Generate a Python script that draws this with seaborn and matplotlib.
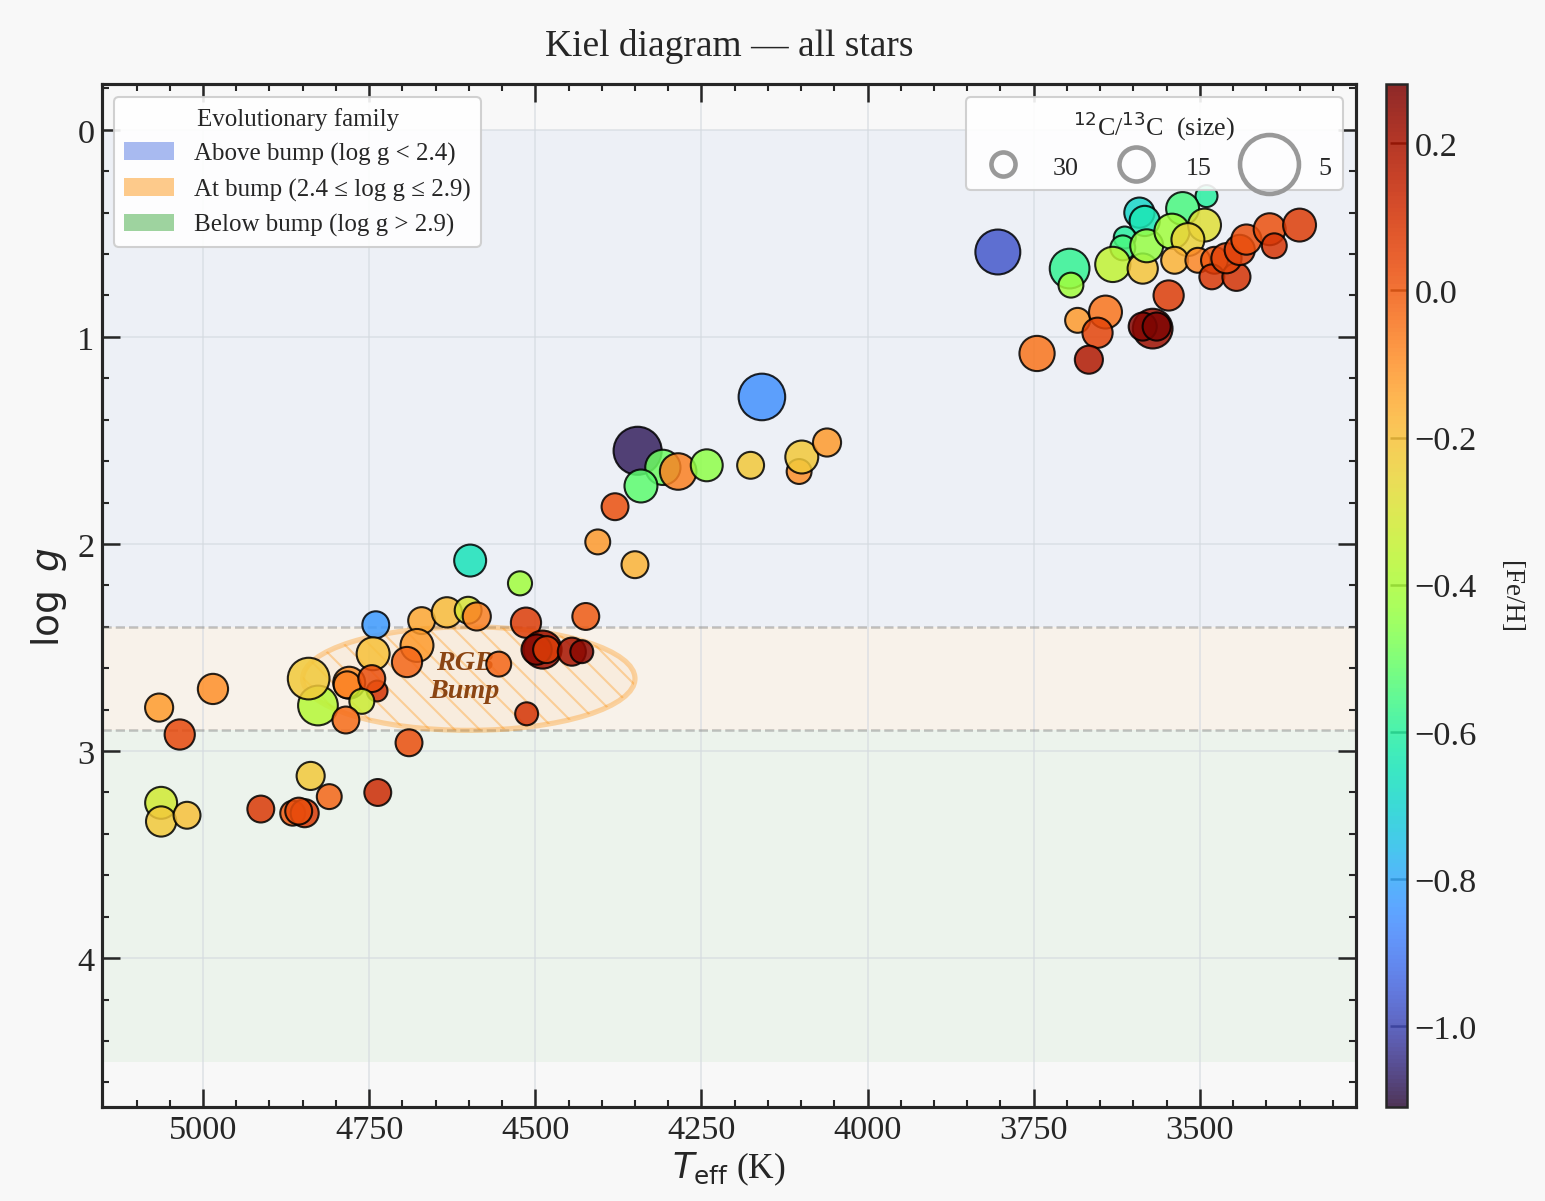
import numpy as np
import pandas as pd
import matplotlib
matplotlib.use("Agg")
import matplotlib.pyplot as plt
import matplotlib.patches as mpatches
from matplotlib.lines import Line2D
from matplotlib.colors import Normalize
from matplotlib.ticker import MultipleLocator
import seaborn as sns

# star values (Teff in K, log g, [Fe/H], 12C/13C)
teff = [3804, 3696, 3694, 3684, 3642, 3654, 3745, 3667, 3571, 3586, 3565, 3547,
        3591, 3583, 3490, 3526, 3613, 3616, 3631, 3586, 3580, 3542, 3493, 3518,
        3538, 3503, 3478, 3482, 3445, 3460, 3440, 3430, 3395, 3388, 3350,
        4159, 4346, 4308, 4285, 4341, 4242, 4176, 4103, 4099, 4061, 4380, 4406,
        4350, 4598, 4523,
        4740, 4671, 4633, 4601, 4588, 4514, 4424, 4489, 4498, 4483, 4445, 4430,
        4744, 4678, 4693, 4555, 4827, 4841, 4738, 4780, 4783, 4746, 4761, 4785,
        4513, 4985, 5066, 5035, 4690, 4838, 5063, 5063, 5024, 4913, 4865, 4847,
        4856, 4810, 4737]
logg = [0.59, 0.67, 0.75, 0.92, 0.88, 0.98, 1.08, 1.11, 0.96, 0.95, 0.95, 0.80,
        0.40, 0.44, 0.32, 0.38, 0.52, 0.57, 0.65, 0.67, 0.56, 0.49, 0.46, 0.53,
        0.63, 0.63, 0.63, 0.71, 0.71, 0.62, 0.58, 0.53, 0.48, 0.56, 0.46,
        1.29, 1.55, 1.63, 1.65, 1.72, 1.62, 1.62, 1.65, 1.58, 1.51, 1.82, 1.99,
        2.10, 2.08, 2.19,
        2.39, 2.37, 2.33, 2.32, 2.35, 2.38, 2.35, 2.51, 2.51, 2.51, 2.52, 2.52,
        2.53, 2.49, 2.57, 2.58, 2.78, 2.65, 2.71, 2.67, 2.68, 2.65, 2.76, 2.85,
        2.82, 2.70, 2.79, 2.92, 2.96, 3.12, 3.25, 3.34, 3.31, 3.28, 3.30, 3.30,
        3.29, 3.22, 3.20]
feh = [-0.97, -0.58, -0.42, -0.12, -0.05, 0.05, -0.05, 0.18, 0.22, 0.26, 0.27, 0.07,
       -0.69, -0.64, -0.60, -0.55, -0.60, -0.55, -0.35, -0.21, -0.44, -0.42, -0.28, -0.25,
       -0.17, -0.08, 0.00, 0.08, 0.10, 0.05, 0.06, 0.02, 0.02, 0.09, 0.07,
       -0.85, -1.08, -0.50, -0.07, -0.52, -0.45, -0.22, -0.10, -0.22, -0.12, 0.02, -0.12,
       -0.17, -0.65, -0.42,
       -0.83, -0.14, -0.19, -0.30, -0.07, 0.07, 0.00, 0.22, 0.25, 0.07, 0.20, 0.25,
       -0.20, -0.12, -0.02, -0.02, -0.38, -0.22, 0.10, -0.10, -0.07, 0.02, -0.33, -0.03,
       0.10, -0.10, -0.12, 0.04, 0.03, -0.22, -0.32, -0.22, -0.20, 0.08, 0.00, 0.08,
       0.03, -0.02, 0.12]
c12c13 = [8.6, 11, 28, 28, 16, 19, 14, 22, 11, 22, 22, 19,
          19, 19, 36, 16, 36, 28, 14, 19, 16, 14, 16, 16,
          24, 28, 24, 28, 22, 19, 19, 19, 17, 28, 16,
          8, 7.5, 14, 13, 16, 17, 24, 28, 16, 22, 24, 28,
          24, 17, 30,
          24, 24, 19, 24, 22, 19, 24, 12, 19, 24, 22, 33,
          16, 16, 19, 28, 11, 10, 40, 17, 24, 24, 28, 24,
          33, 19, 22, 19, 24, 22, 17, 19, 24, 24, 28, 22,
          24, 28, 24]

family_labels = ["Above bump (log g < 2.4)",
                 "At bump (2.4 \u2264 log g \u2264 2.9)",
                 "Below bump (log g > 2.9)"]
family_colors = ["royalblue", "darkorange", "tab:green"]
family_bounds = [(0.0, 2.4), (2.4, 2.9), (2.9, 4.5)]
legend_ratios = [30, 15, 5]
feh_ticks = [-1.0, -0.8, -0.6, -0.4, -0.2, 0.0, 0.2]

sns.set_style("ticks")
plt.rcParams["font.family"] = ["Liberation Serif", "DejaVu Serif"]
plt.rcParams["mathtext.fontset"] = "dejavusans"

df = pd.DataFrame({"teff": teff, "logg": logg, "feh": feh, "ratio": c12c13})
df["s"] = 4000 / df["ratio"]
norm = Normalize(vmin=-1.11, vmax=0.28)

bg = "#f8f8f8"
fig = plt.figure(figsize=(10.3, 8.013), dpi=150, facecolor=bg)
ax = fig.add_axes([0.066, 0.078, 0.8117, 0.8511], facecolor=bg)
cax = fig.add_axes([0.8971, 0.078, 0.0136, 0.8511])

# evolutionary bands
for (lo, hi), c in zip(family_bounds, family_colors):
    ax.axhspan(lo, hi, color=c, alpha=0.055, lw=0, zorder=0)
for y in (2.4, 2.9):
    ax.axhline(y, color="gray", ls="--", lw=1.2, alpha=0.45, zorder=1)

ell = mpatches.Ellipse((4600, 2.65), 500, 0.5,
                       facecolor=(1, 0.55, 0, 0.05), edgecolor=(1, 0.55, 0, 0.32),
                       lw=2.5, hatch="\\\\", zorder=1.5)
ax.add_patch(ell)
ax.text(4606, 2.64, "RGB\nBump", ha="center", va="center", fontsize=13.5,
        style="italic", weight="bold", color="#8b4513", zorder=1.8)

sns.scatterplot(data=df, x="teff", y="logg", hue="feh", palette="turbo",
                hue_norm=norm, s=df["s"].values, edgecolor="black", linewidth=1.0,
                alpha=0.85, legend=False, ax=ax, zorder=3)

ax.set_xlim(5152, 3265)
ax.set_ylim(4.72, -0.22)
ax.xaxis.set_major_locator(MultipleLocator(250))
ax.xaxis.set_minor_locator(MultipleLocator(50))
ax.yaxis.set_major_locator(MultipleLocator(1))
ax.yaxis.set_minor_locator(MultipleLocator(0.2))
ax.tick_params(which="both", direction="in", top=True, right=True, labelsize=16.5)
ax.tick_params(which="major", length=8.5, width=1.2)
ax.tick_params(which="minor", length=3.5, width=1.0)
ax.grid(True, which="major", color="#d5dae0", lw=0.8, alpha=0.7)
ax.set_axisbelow(True)
for sp in ax.spines.values():
    sp.set_linewidth(1.5)

ax.set_title("Kiel diagram \u2014 all stars", fontsize=18, pad=14)
ax.set_xlabel(r"$T_{\rm eff}$ (K)", fontsize=17, labelpad=2)
ax.set_ylabel(r"$\log\ g$", fontsize=18)

patches = [mpatches.Patch(facecolor=c, alpha=0.45, lw=0, label=l)
           for c, l in zip(family_colors, family_labels)]
leg1 = ax.legend(handles=patches, title="Evolutionary family", loc="upper left",
                 fontsize=12, title_fontsize=12, frameon=True, fancybox=True,
                 framealpha=0.9, edgecolor="#cccccc", handlelength=2.0)
ax.add_artist(leg1)

size_handles = [Line2D([], [], ls="none", marker="o", markersize=np.sqrt(4000 / r),
                       markerfacecolor="none", markeredgecolor="#999999",
                       markeredgewidth=2.2, label=str(r)) for r in legend_ratios]
ax.legend(handles=size_handles, title=r"$^{12}$C/$^{13}$C  (size)", loc="upper right",
          ncol=3, fontsize=12.5, title_fontsize=12.5, frameon=True, fancybox=True,
          framealpha=0.9, edgecolor="#cccccc", handletextpad=0.9, columnspacing=1.2,
          borderpad=0.45)

sm = plt.cm.ScalarMappable(norm=norm, cmap="turbo")
cb = fig.colorbar(sm, cax=cax, alpha=0.85)
cb.set_ticks(feh_ticks)
cb.ax.tick_params(direction="in", length=8, width=1.2, labelsize=16.5)
cb.outline.set_linewidth(1.2)
cb.set_label("[Fe/H]", rotation=270, fontsize=13, labelpad=22)

fig.savefig("out.png", dpi=150, facecolor=bg)
